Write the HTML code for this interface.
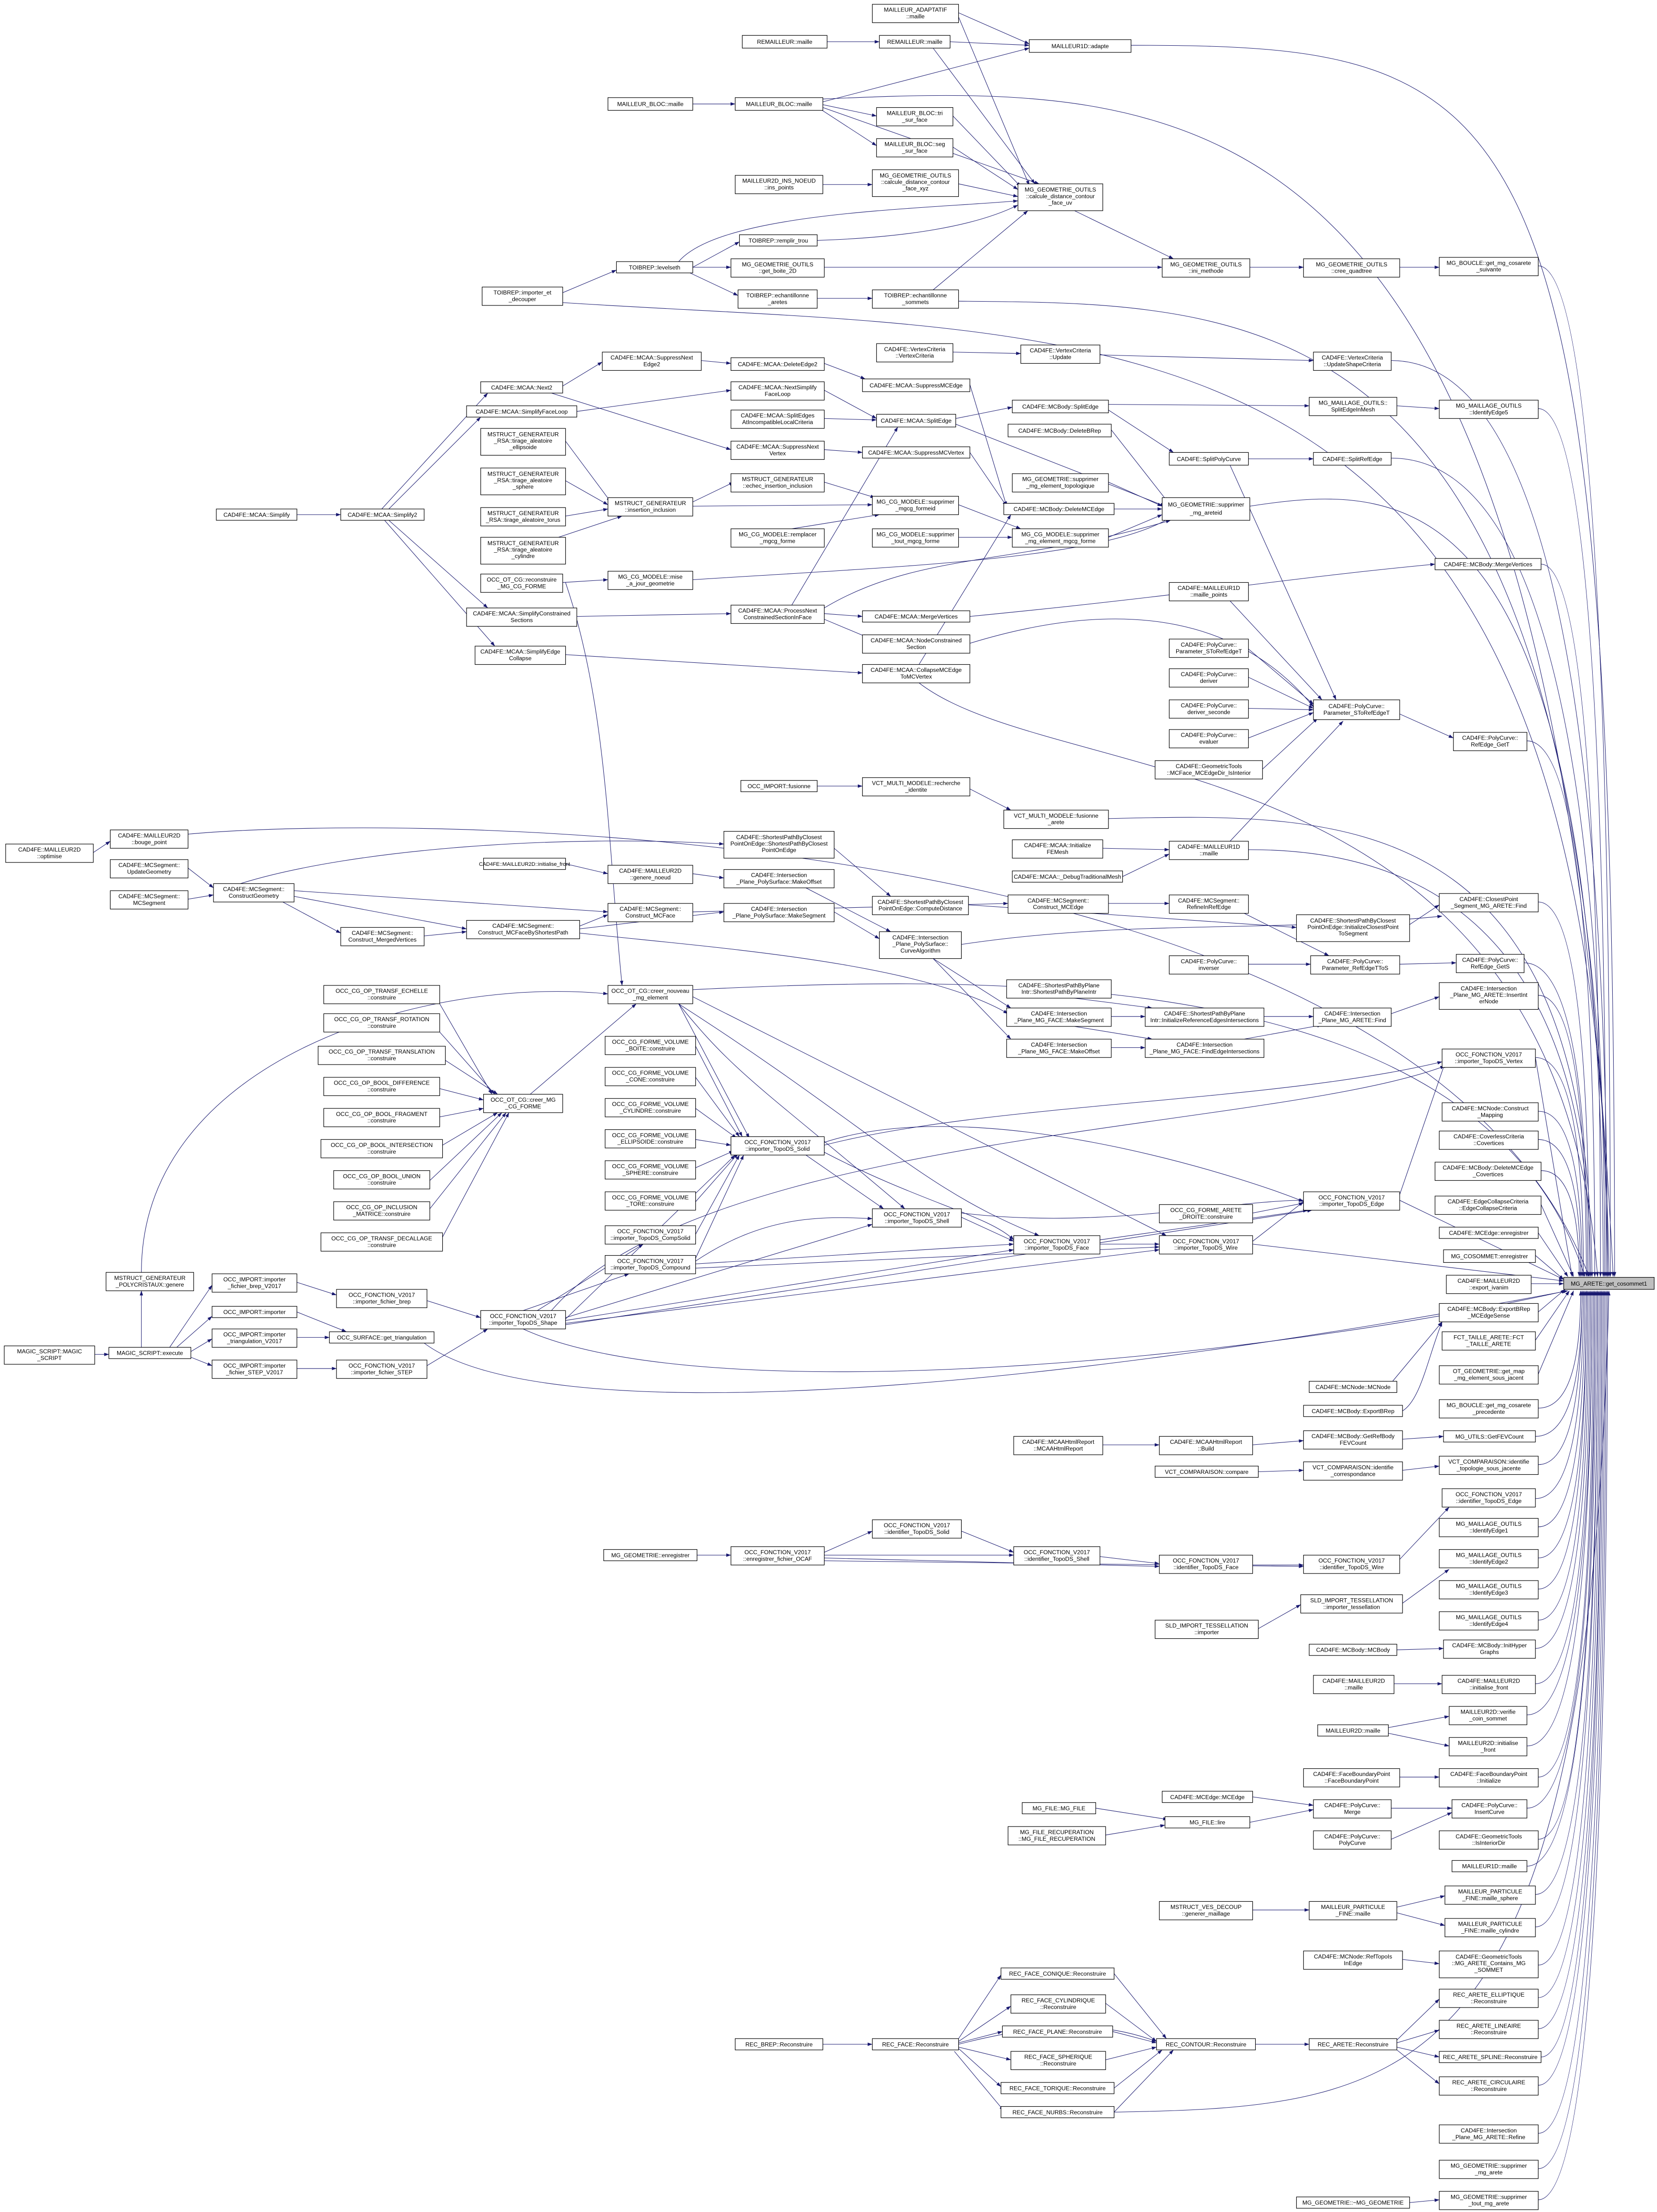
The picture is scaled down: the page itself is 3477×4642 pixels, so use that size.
<!DOCTYPE html>
<html><head><meta charset="utf-8">
<style>
html,body{margin:0;padding:0;background:#fff}
svg{display:block}
rect{fill:#fff;stroke:#000;stroke-width:.4}
text{font-family:"Liberation Sans",sans-serif;font-size:4.1px;text-anchor:middle;fill:#000}
path{fill:none;stroke:#191970;stroke-width:.35;marker-end:url(#a)}
</style></head><body>
<svg width="3477" height="4642" viewBox="0 0 1172 1564.6" xmlns="http://www.w3.org/2000/svg">
<defs><marker id="a" markerUnits="userSpaceOnUse" markerWidth="3.4" markerHeight="2.4" refX="3.3" refY="1.2" orient="auto"><path d="M0,0L3.4,1.2L0,2.4z" style="fill:#191970;stroke:none;marker-end:none"/></marker></defs>

<!-- ===== EDGES ===== -->
<path d="M678,9 L728,31"/>
<path d="M678,12 L728,131"/>
<path d="M585,29.5 L622,29.5"/>
<path d="M672,29.5 L728,32"/>
<path d="M660,34 L732,130"/>
<path d="M490,73.5 L520,73.5"/>
<path d="M582,72 L728,34"/>
<path d="M582,74 L620,82"/>
<path d="M580,77 L620,103"/>
<path d="M582,76 L735,130"/>
<path d="M582,70 C850,58 1100,55 1141,903"/>
<path d="M800,32 C1080,32 1142,60 1142,903"/>
<path d="M674,82 L722,132"/>
<path d="M674,104 L720,134"/>
<path d="M582,130.5 L617,130.5"/>
<path d="M678,130 L720,139"/>
<path d="M578,170 C640,168 690,160 720,145"/>
<path d="M490,189 L523,171"/>
<path d="M490,189 L517,189"/>
<path d="M488,193 L522,209"/>
<path d="M480,185 C510,150 650,148 720,142"/>
<path d="M398,207 L436,191"/>
<path d="M398,214 C800,240 1130,200 1138,903"/>
<path d="M583,189 L822,189"/>
<path d="M578,211 L617,211"/>
<path d="M660,205 L727,149"/>
<path d="M678,213 C900,215 1130,210 1137,903"/>
<path d="M760,149 L830,183"/>
<path d="M884,189 L922,189"/>
<path d="M990,189 L1018,189"/>
<path d="M496,255 L517,257"/>
<path d="M583,257 L612,268"/>
<path d="M398,273 L426,256"/>
<path d="M390,278 L517,318"/>
<path d="M408,291 L517,276"/>
<path d="M583,276 L620,296"/>
<path d="M583,296 L620,297"/>
<path d="M583,318 L610,320"/>
<path d="M686,272 L712,358"/>
<path d="M686,320 L712,358"/>
<path d="M676,296 L716,288"/>
<path d="M676,300 L824,358"/>
<path d="M784,290 L830,320"/>
<path d="M784,286 L926,287"/>
<path d="M988,287 L1018,289"/>
<path d="M786,304 L826,355"/>
<path d="M674,249 L722,250"/>
<path d="M778,251 L929,255"/>
<path d="M984,255 Q1137,255 1137,903"/>
<path d="M883,324.5 L929,324.5"/>
<path d="M870,329 L945,495"/>
<path d="M984,324 Q1135,324 1135,903"/>
<path d="M400,312 L432,355"/>
<path d="M400,340 L430,357"/>
<path d="M400,365 L430,360"/>
<path d="M395,380 L440,365"/>
<path d="M490,355 L519,341"/>
<path d="M490,358 L617,357"/>
<path d="M583,341 L619,352"/>
<path d="M210,364 L241,364"/>
<path d="M270,360 L345,278"/>
<path d="M275,360 L340,295"/>
<path d="M275,368 L345,430"/>
<path d="M272,368 L350,457"/>
<path d="M678,357 L722,374"/>
<path d="M560,374 L622,364"/>
<path d="M678,380 L716,380"/>
<path d="M784,341 L822,358"/>
<path d="M788,360 L822,360"/>
<path d="M784,380 L822,364"/>
<path d="M884,358 C1000,340 1133,340 1134,903"/>
<path d="M398,412 L430,410"/>
<path d="M490,410 C650,400 780,395 828,366"/>
<path d="M408,436 L517,434"/>
<path d="M583,434 L610,436"/>
<path d="M583,438 L614,451"/>
<path d="M560,428 L635,302"/>
<path d="M583,430 C650,390 720,400 828,368"/>
<path d="M400,463 L610,476"/>
<path d="M650,470 L715,364"/>
<path d="M650,483 C750,560 1100,520 1130,903"/>
<path d="M686,436 C850,420 900,410 1015,399"/>
<path d="M686,455 C800,420 880,440 929,500"/>
<path d="M1090,399 Q1132,399 1132,903"/>
<path d="M870,425 L935,495"/>
<path d="M883,459 L929,498"/>
<path d="M883,479 L929,501"/>
<path d="M883,501 L929,502"/>
<path d="M883,522 L929,504"/>
<path d="M893,544 L932,508"/>
<path d="M870,595 L950,510"/>
<path d="M990,505 L1028,522"/>
<path d="M1080,524 Q1128,524 1128,903"/>
<path d="M578,556 L610,556"/>
<path d="M686,558 L715,573"/>
<path d="M784,579 C950,575 1124,570 1126,903"/>
<path d="M780,600 L827,601"/>
<path d="M794,620 L827,604"/>
<path d="M883,601 Q1125,600 1125,903"/>
<path d="M784,639 L827,639"/>
<path d="M880,646 L940,676"/>
<path d="M883,682 L927,682"/>
<path d="M990,682 L1030,681"/>
<path d="M1078,681 Q1123,681 1123,903"/>
<path d="M997,654 L1018,640"/>
<path d="M1088,638 Q1124,638 1124,903"/>
<path d="M590,600 L630,634"/>
<path d="M685,640 L917,656"/>
<path d="M133,590 C300,575 1000,580 1124,903"/>
<path d="M66,603 L78,595"/>
<path d="M133,614 L151,628"/>
<path d="M133,636 L151,633"/>
<path d="M170,625 C250,600 400,590 512,597"/>
<path d="M208,630 L430,645"/>
<path d="M208,634 L330,657"/>
<path d="M200,638 L241,660"/>
<path d="M300,662 L330,659"/>
<path d="M410,655 L430,647"/>
<path d="M410,657 L512,645"/>
<path d="M400,611 L430,618"/>
<path d="M490,618 L512,621"/>
<path d="M490,645 L713,639"/>
<path d="M570,628 L630,659"/>
<path d="M590,645 L622,664"/>
<path d="M660,678 L715,713"/>
<path d="M660,678 L715,735"/>
<path d="M680,668 C800,650 900,660 1020,648"/>
<path d="M760,706 L815,713"/>
<path d="M786,719 L810,719"/>
<path d="M760,726 L815,735"/>
<path d="M786,741 L810,741"/>
<path d="M894,719 L929,719"/>
<path d="M880,735 L935,725"/>
<path d="M984,717 L1018,705"/>
<path d="M1088,704 Q1122,704 1122,903"/>
<path d="M410,660 C500,670 650,680 713,717"/>
<path d="M311,710 L348,774"/>
<path d="M311,730 L350,774"/>
<path d="M315,750 L352,774"/>
<path d="M311,770 L342,778"/>
<path d="M311,790 L342,784"/>
<path d="M313,810 L352,787"/>
<path d="M304,835 L355,787"/>
<path d="M304,855 L358,787"/>
<path d="M313,875 L360,787"/>
<path d="M375,774 L450,710"/>
<path d="M400,412 C430,500 430,600 440,697"/>
<path d="M490,700 C700,690 1050,680 1121,903"/>
<path d="M480,710 L530,805"/>
<path d="M480,710 C520,760 540,770 640,855"/>
<path d="M480,710 C620,800 650,840 735,874"/>
<path d="M490,705 L825,874"/>
<path d="M492,740 L525,804"/>
<path d="M492,762 L523,804"/>
<path d="M492,784 L521,805"/>
<path d="M492,806 L517,810"/>
<path d="M492,826 L519,814"/>
<path d="M492,850 L522,816"/>
<path d="M492,873 L523,817"/>
<path d="M492,890 L526,817"/>
<path d="M492,892 C540,860 580,860 617,862"/>
<path d="M492,894 L717,880"/>
<path d="M492,897 L820,882"/>
<path d="M570,817 L625,855"/>
<path d="M583,810 C700,780 900,780 1020,751"/>
<path d="M583,808 C700,770 900,840 922,850"/>
<path d="M583,815 C650,850 700,860 717,877"/>
<path d="M680,861 L717,878"/>
<path d="M680,858 C780,870 870,849 922,849"/>
<path d="M778,880 L820,880"/>
<path d="M778,877 L925,856"/>
<path d="M886,878 L922,850"/>
<path d="M886,858 L922,851"/>
<path d="M886,880 L1106,906"/>
<path d="M990,845 L1022,752"/>
<path d="M990,849 L1106,905"/>
<path d="M1086,748 Q1120,748 1120,903"/>
<path d="M400,933 L520,817"/>
<path d="M400,932 L617,866"/>
<path d="M400,934 L717,884"/>
<path d="M400,936 L820,884"/>
<path d="M400,937 L928,856"/>
<path d="M390,927 C500,800 900,800 1022,754"/>
<path d="M370,927 L445,901"/>
<path d="M380,927 L455,880"/>
<path d="M370,940 C500,1000 900,960 1108,913"/>
<path d="M100,900 C100,750 300,690 430,703"/>
<path d="M210,907 L238,916"/>
<path d="M302,920 L340,932"/>
<path d="M210,928 L245,942"/>
<path d="M210,946 L233,946"/>
<path d="M300,950 C380,1010 700,990 1109,913"/>
<path d="M67,958 L77,958"/>
<path d="M120,953 L150,909"/>
<path d="M125,953 L150,931"/>
<path d="M135,956 L150,947"/>
<path d="M135,960 L150,966"/>
<path d="M210,968 L238,968"/>
<path d="M302,966 L345,940"/>
<path d="M100,953 L100,913"/>
<path d="M985,977 L1020,935"/>
<path d="M992,998 C1005,990 1010,960 1020,935"/>
<path d="M780,1022 L820,1022"/>
<path d="M886,1022 L922,1019"/>
<path d="M992,1018 L1021,1016"/>
<path d="M890,1041 L922,1040"/>
<path d="M992,1040 L1018,1037"/>
<path d="M493,1100 L517,1100"/>
<path d="M583,1098 L617,1083"/>
<path d="M583,1100 L717,1100"/>
<path d="M583,1102 L820,1108"/>
<path d="M583,1104 L922,1108"/>
<path d="M680,1083 L717,1098"/>
<path d="M778,1101 L820,1106"/>
<path d="M886,1107 L922,1107"/>
<path d="M990,1103 L1025,1066"/>
<path d="M890,1152 L920,1135"/>
<path d="M992,1134 L1025,1110"/>
<path d="M988,1167 L1021,1166"/>
<path d="M986,1191 L1020,1191"/>
<path d="M982,1222 L1025,1214"/>
<path d="M982,1226 L1025,1235"/>
<path d="M990,1257 L1018,1257"/>
<path d="M775,1279 L826,1287"/>
<path d="M782,1298 L824,1291"/>
<path d="M884,1289 L929,1280"/>
<path d="M886,1271 L929,1277"/>
<path d="M984,1279 L1027,1279"/>
<path d="M984,1301 L1027,1282"/>
<path d="M886,1351 L926,1351"/>
<path d="M988,1349 L1022,1341"/>
<path d="M988,1353 L1022,1362"/>
<path d="M992,1386 L1018,1389"/>
<path d="M582,1446 L617,1446"/>
<path d="M678,1442 L708,1397"/>
<path d="M678,1444 L715,1419"/>
<path d="M678,1445 L709,1437"/>
<path d="M678,1448 L715,1457"/>
<path d="M678,1449 L708,1476"/>
<path d="M675,1451 L710,1493"/>
<path d="M678,1446 C740,1430 780,1430 818,1444"/>
<path d="M788,1396 L825,1442"/>
<path d="M782,1417 L818,1444"/>
<path d="M787,1437 L818,1445"/>
<path d="M782,1457 L818,1448"/>
<path d="M788,1477 L822,1450"/>
<path d="M788,1494 L830,1450"/>
<path d="M888,1446 L926,1446"/>
<path d="M988,1443 L1018,1414"/>
<path d="M988,1445 L1018,1436"/>
<path d="M988,1448 L1018,1455"/>
<path d="M988,1450 L1018,1474"/>
<path d="M788,1494 C1000,1490 1124,1480 1138,913"/>
<path d="M997,1558 L1018,1556"/>
<path d="M1088,188 Q1139,188 1139,903"/>
<path d="M1088,289 Q1136,289 1136,903"/>
<path d="M1086,748 L1112,903"/>
<path d="M1088,786 Q1119,786 1119,903"/>
<path d="M1088,806 Q1118,806 1118,903"/>
<path d="M1090,828 Q1117,828 1117,903"/>
<path d="M1090,852 L1113,903"/>
<path d="M1088,872 L1109,903"/>
<path d="M1086,888 L1106,905"/>
<path d="M1083,908 L1106,908"/>
<path d="M1088,928 L1107,912"/>
<path d="M1086,948 L1110,913"/>
<path d="M1088,972 L1113,913"/>
<path d="M1088,996 Q1118,996 1118,913"/>
<path d="M1086,1016 Q1119,1016 1119,913"/>
<path d="M1088,1036 Q1119,1036 1119,913"/>
<path d="M1086,1060 Q1120,1060 1120,913"/>
<path d="M1088,1080 Q1121,1080 1121,913"/>
<path d="M1088,1102 Q1122,1102 1122,913"/>
<path d="M1088,1124 Q1122,1124 1122,913"/>
<path d="M1088,1146 Q1123,1146 1123,913"/>
<path d="M1086,1166 Q1124,1166 1124,913"/>
<path d="M1086,1191 Q1125,1191 1125,913"/>
<path d="M1080,1213 Q1126,1213 1126,913"/>
<path d="M1080,1235 Q1126,1235 1126,913"/>
<path d="M1088,1257 Q1127,1257 1127,913"/>
<path d="M1080,1279 Q1128,1279 1128,913"/>
<path d="M1088,1301 Q1128,1301 1128,913"/>
<path d="M1080,1320 Q1129,1320 1129,913"/>
<path d="M1086,1340 Q1130,1340 1130,913"/>
<path d="M1086,1363 Q1130,1363 1130,913"/>
<path d="M1088,1390 Q1131,1390 1131,913"/>
<path d="M1088,1413 Q1132,1413 1132,913"/>
<path d="M1088,1435 Q1133,1435 1133,913"/>
<path d="M1090,1455 Q1133,1455 1133,913"/>
<path d="M1088,1475 Q1134,1475 1134,913"/>
<path d="M1088,1509 Q1135,1509 1135,913"/>
<path d="M1088,1534 Q1136,1534 1136,913"/>
<path d="M1088,1556 Q1137,1556 1137,913"/>

<!-- ===== NODES ===== -->
<rect x="617" y="3" width="61" height="13"/><text x="647.5" y="8.3">MAILLEUR_ADAPTATIF</text><text x="647.5" y="13">::maille</text>
<rect x="525" y="25" width="60" height="9"/><text x="555" y="31">REMAILLEUR::maille</text>
<rect x="622" y="25" width="50" height="9"/><text x="647" y="31">REMAILLEUR::maille</text>
<rect x="728" y="28" width="72" height="9"/><text x="764" y="34">MAILLEUR1D::adapte</text>
<rect x="430" y="69" width="60" height="9"/><text x="460" y="75">MAILLEUR_BLOC::maille</text>
<rect x="520" y="69" width="62" height="9"/><text x="551" y="75">MAILLEUR_BLOC::maille</text>
<rect x="620" y="76" width="54" height="13"/><text x="647" y="81.3">MAILLEUR_BLOC::tri</text><text x="647" y="86">_sur_face</text>
<rect x="620" y="98" width="54" height="13"/><text x="647" y="103.3">MAILLEUR_BLOC::seg</text><text x="647" y="108">_sur_face</text>
<rect x="520" y="124" width="62" height="13"/><text x="551" y="129.3">MAILLEUR2D_INS_NOEUD</text><text x="551" y="134">::ins_points</text>
<rect x="617" y="120" width="61" height="19"/><text x="647.5" y="125.5">MG_GEOMETRIE_OUTILS</text><text x="647.5" y="130.1">::calcule_distance_contour</text><text x="647.5" y="134.7">_face_xyz</text>
<rect x="720" y="130" width="60" height="19"/><text x="750" y="135.5">MG_GEOMETRIE_OUTILS</text><text x="750" y="140.1">::calcule_distance_contour</text><text x="750" y="144.7">_face_uv</text>
<rect x="523" y="166" width="55" height="8"/><text x="550.5" y="171.5">TOIBREP::remplir_trou</text>
<rect x="436" y="185" width="54" height="8"/><text x="463" y="190.5">TOIBREP::levelseth</text>
<rect x="517" y="183" width="66" height="13"/><text x="550" y="188.3">MG_GEOMETRIE_OUTILS</text><text x="550" y="193">::get_boite_2D</text>
<rect x="341" y="203" width="57" height="13"/><text x="369.5" y="208.3">TOIBREP::importer_et</text><text x="369.5" y="213">_decouper</text>
<rect x="522" y="205" width="56" height="13"/><text x="550" y="210.3">TOIBREP::echantillonne</text><text x="550" y="215">_aretes</text>
<rect x="617" y="205" width="61" height="13"/><text x="647.5" y="210.3">TOIBREP::echantillonne</text><text x="647.5" y="215">_sommets</text>
<rect x="822" y="183" width="62" height="13"/><text x="853" y="188.3">MG_GEOMETRIE_OUTILS</text><text x="853" y="193">::ini_methode</text>
<rect x="922" y="183" width="68" height="13"/><text x="956" y="188.3">MG_GEOMETRIE_OUTILS</text><text x="956" y="193">::cree_quadtree</text>

<rect x="426" y="249" width="70" height="13"/><text x="461" y="254.3">CAD4FE::MCAA::SuppressNext</text><text x="461" y="259">Edge2</text>
<rect x="517" y="253" width="66" height="9"/><text x="550" y="259">CAD4FE::MCAA::DeleteEdge2</text>
<rect x="620" y="243" width="54" height="13"/><text x="647" y="248.3">CAD4FE::VertexCriteria</text><text x="647" y="253">::VertexCriteria</text>
<rect x="722" y="244" width="56" height="13"/><text x="750" y="249.3">CAD4FE::VertexCriteria</text><text x="750" y="254">::Update</text>
<rect x="929" y="249" width="55" height="13"/><text x="956.5" y="254.3">CAD4FE::VertexCriteria</text><text x="956.5" y="259">::UpdateShapeCriteria</text>
<rect x="340" y="270" width="58" height="8"/><text x="369" y="275.5">CAD4FE::MCAA::Next2</text>
<rect x="517" y="270" width="66" height="13"/><text x="550" y="275.3">CAD4FE::MCAA::NextSimplify</text><text x="550" y="280">FaceLoop</text>
<rect x="610" y="268" width="76" height="9"/><text x="648" y="274">CAD4FE::MCAA::SuppressMCEdge</text>
<rect x="716" y="283" width="68" height="9"/><text x="750" y="289">CAD4FE::MCBody::SplitEdge</text>
<rect x="926" y="281" width="62" height="13"/><text x="957" y="286.3">MG_MAILLAGE_OUTILS::</text><text x="957" y="291">SplitEdgeInMesh</text>
<rect x="330" y="287" width="78" height="8"/><text x="369" y="292.5">CAD4FE::MCAA::SimplifyFaceLoop</text>
<rect x="517" y="290" width="66" height="13"/><text x="550" y="295.3">CAD4FE::MCAA::SplitEdges</text><text x="550" y="300">AtIncompatibleLocalCriteria</text>
<rect x="620" y="293" width="56" height="9"/><text x="648" y="299">CAD4FE::MCAA::SplitEdge</text>
<rect x="713" y="300" width="73" height="9"/><text x="749.5" y="306">CAD4FE::MCBody::DeleteBRep</text>
<rect x="340" y="303" width="60" height="19"/><text x="370" y="308.5">MSTRUCT_GENERATEUR</text><text x="370" y="313.1">_RSA::tirage_aleatoire</text><text x="370" y="317.7">_ellipsoide</text>
<rect x="517" y="312" width="66" height="13"/><text x="550" y="317.3">CAD4FE::MCAA::SuppressNext</text><text x="550" y="322">Vertex</text>
<rect x="610" y="316" width="76" height="8"/><text x="648" y="321.5">CAD4FE::MCAA::SuppressMCVertex</text>
<rect x="827" y="320" width="56" height="9"/><text x="855" y="326">CAD4FE::SplitPolyCurve</text>
<rect x="929" y="320" width="55" height="9"/><text x="956.5" y="326">CAD4FE::SplitRefEdge</text>
<rect x="340" y="331" width="60" height="19"/><text x="370" y="336.5">MSTRUCT_GENERATEUR</text><text x="370" y="341.1">_RSA::tirage_aleatoire</text><text x="370" y="345.7">_sphere</text>
<rect x="517" y="335" width="66" height="13"/><text x="550" y="340.3">MSTRUCT_GENERATEUR</text><text x="550" y="345">::echec_insertion_inclusion</text>
<rect x="716" y="335" width="68" height="13"/><text x="750" y="340.3">MG_GEOMETRIE::supprimer</text><text x="750" y="345">_mg_element_topologique</text>
<rect x="153" y="360" width="57" height="8"/><text x="181.5" y="365.5">CAD4FE::MCAA::Simplify</text>
<rect x="241" y="360" width="59" height="8"/><text x="270.5" y="365.5">CAD4FE::MCAA::Simplify2</text>
<rect x="430" y="352" width="60" height="13"/><text x="460" y="357.3">MSTRUCT_GENERATEUR</text><text x="460" y="362">::insertion_inclusion</text>
<rect x="617" y="351" width="61" height="13"/><text x="647.5" y="356.3">MG_CG_MODELE::supprimer</text><text x="647.5" y="361">_mgcg_formeid</text>
<rect x="710" y="356" width="78" height="8"/><text x="749" y="361.5">CAD4FE::MCBody::DeleteMCEdge</text>
<rect x="822" y="352" width="62" height="16"/><text x="853" y="358.3">MG_GEOMETRIE::supprimer</text><text x="853" y="364">_mg_areteid</text>
<rect x="340" y="359" width="60" height="13"/><text x="370" y="364.3">MSTRUCT_GENERATEUR</text><text x="370" y="369">_RSA::tirage_aleatoire_torus</text>
<rect x="340" y="380" width="60" height="19"/><text x="370" y="385.5">MSTRUCT_GENERATEUR</text><text x="370" y="390.1">_RSA::tirage_aleatoire</text><text x="370" y="394.7">_cylindre</text>
<rect x="517" y="374" width="66" height="13"/><text x="550" y="379.3">MG_CG_MODELE::remplacer</text><text x="550" y="384">_mgcg_forme</text>
<rect x="617" y="374" width="61" height="13"/><text x="647.5" y="379.3">MG_CG_MODELE::supprimer</text><text x="647.5" y="384">_tout_mgcg_forme</text>
<rect x="716" y="374" width="68" height="13"/><text x="750" y="379.3">MG_CG_MODELE::supprimer</text><text x="750" y="384">_mg_element_mgcg_forme</text>
<rect x="340" y="406" width="58" height="13"/><text x="369" y="411.3">OCC_OT_CG::reconstruire</text><text x="369" y="416">_MG_CG_FORME</text>
<rect x="430" y="404" width="60" height="13"/><text x="460" y="409.3">MG_CG_MODELE::mise</text><text x="460" y="414">_a_jour_geometrie</text>
<rect x="517" y="428" width="66" height="13"/><text x="550" y="433.3">CAD4FE::MCAA::ProcessNext</text><text x="550" y="438">ConstrainedSectionInFace</text>
<rect x="610" y="432" width="76" height="8"/><text x="648" y="437.5">CAD4FE::MCAA::MergeVertices</text>
<rect x="330" y="430" width="78" height="13"/><text x="369" y="435.3">CAD4FE::MCAA::SimplifyConstrained</text><text x="369" y="440">Sections</text>
<rect x="610" y="449" width="76" height="13"/><text x="648" y="454.3">CAD4FE::MCAA::NodeConstrained</text><text x="648" y="459">Section</text>
<rect x="1015" y="395" width="75" height="8"/><text x="1052.5" y="400.5">CAD4FE::MCBody::MergeVertices</text>
<rect x="827" y="412" width="56" height="13"/><text x="855" y="417.3">CAD4FE::MAILLEUR1D</text><text x="855" y="422">::maille_points</text>
<rect x="827" y="452" width="56" height="13"/><text x="855" y="457.3">CAD4FE::PolyCurve::</text><text x="855" y="462">Parameter_SToRefEdgeT</text>
<rect x="336" y="457" width="64" height="13"/><text x="368" y="462.3">CAD4FE::MCAA::SimplifyEdge</text><text x="368" y="467">Collapse</text>
<rect x="610" y="470" width="76" height="13"/><text x="648" y="475.3">CAD4FE::MCAA::CollapseMCEdge</text><text x="648" y="480">ToMCVertex</text>
<rect x="827" y="473" width="56" height="13"/><text x="855" y="478.3">CAD4FE::PolyCurve::</text><text x="855" y="483">deriver</text>
<rect x="929" y="495" width="61" height="14"/><text x="959.5" y="500.8">CAD4FE::PolyCurve::</text><text x="959.5" y="505.5">Parameter_SToRefEdgeT</text>
<rect x="827" y="495" width="56" height="13"/><text x="855" y="500.3">CAD4FE::PolyCurve::</text><text x="855" y="505">deriver_seconde</text>
<rect x="827" y="516" width="56" height="13"/><text x="855" y="521.3">CAD4FE::PolyCurve::</text><text x="855" y="526">evaluer</text>
<rect x="1028" y="518" width="52" height="13"/><text x="1054" y="523.3">CAD4FE::PolyCurve::</text><text x="1054" y="528">RefEdge_GetT</text>
<rect x="817" y="538" width="76" height="13"/><text x="855" y="543.3">CAD4FE::GeometricTools</text><text x="855" y="548">::MCFace_MCEdgeDir_IsInterior</text>
<rect x="524" y="552" width="54" height="8"/><text x="551" y="557.5">OCC_IMPORT::fusionne</text>
<rect x="610" y="550" width="76" height="13"/><text x="648" y="555.3">VCT_MULTI_MODELE::recherche</text><text x="648" y="560">_identite</text>
<rect x="710" y="573" width="74" height="13"/><text x="747" y="578.3">VCT_MULTI_MODELE::fusionne</text><text x="747" y="583">_arete</text>
<rect x="716" y="594" width="64" height="13"/><text x="748" y="599.3">CAD4FE::MCAA::Initialize</text><text x="748" y="604">FEMesh</text>
<rect x="827" y="595" width="56" height="13"/><text x="855" y="600.3">CAD4FE::MAILLEUR1D</text><text x="855" y="605">::maille</text>
<rect x="716" y="616" width="78" height="8"/><text x="755" y="621.5">CAD4FE::MCAA::_DebugTraditionalMesh</text>
<rect x="713" y="633" width="71" height="13"/><text x="748.5" y="638.3">CAD4FE::MCSegment::</text><text x="748.5" y="643">Construct_MCEdge</text>
<rect x="827" y="633" width="56" height="13"/><text x="855" y="638.3">CAD4FE::MCSegment::</text><text x="855" y="643">RefineInRefEdge</text>
<rect x="1018" y="632" width="70" height="13"/><text x="1053" y="637.3">CAD4FE::ClosestPoint</text><text x="1053" y="642">_Segment_MG_ARETE::Find</text>
<rect x="917" y="647" width="80" height="19"/><text x="957" y="652.5">CAD4FE::ShortestPathByClosest</text><text x="957" y="657.1">PointOnEdge::InitializeClosestPoint</text><text x="957" y="661.7">ToSegment</text>
<rect x="827" y="676" width="56" height="13"/><text x="855" y="681.3">CAD4FE::PolyCurve::</text><text x="855" y="686">inverser</text>
<rect x="927" y="676" width="63" height="13"/><text x="958.5" y="681.3">CAD4FE::PolyCurve::</text><text x="958.5" y="686">Parameter_RefEdgeTToS</text>
<rect x="1030" y="675" width="48" height="13"/><text x="1054" y="680.3">CAD4FE::PolyCurve::</text><text x="1054" y="685">RefEdge_GetS</text>
<rect x="78" y="587" width="55" height="13"/><text x="105.5" y="592.3">CAD4FE::MAILLEUR2D</text><text x="105.5" y="597">::bouge_point</text>
<rect x="4" y="597" width="62" height="13"/><text x="35" y="602.3">CAD4FE::MAILLEUR2D</text><text x="35" y="607">::optimise</text>
<rect x="78" y="608" width="55" height="13"/><text x="105.5" y="613.3">CAD4FE::MCSegment::</text><text x="105.5" y="618">UpdateGeometry</text>
<rect x="78" y="630" width="55" height="13"/><text x="105.5" y="635.3">CAD4FE::MCSegment::</text><text x="105.5" y="640">MCSegment</text>
<rect x="151" y="625" width="57" height="13"/><text x="179.5" y="630.3">CAD4FE::MCSegment::</text><text x="179.5" y="635">ConstructGeometry</text>
<rect x="512" y="588" width="78" height="19"/><text x="551" y="593.5">CAD4FE::ShortestPathByClosest</text><text x="551" y="598.1">PointOnEdge::ShortestPathByClosest</text><text x="551" y="602.7">PointOnEdge</text>
<rect x="342" y="607" width="58" height="8"/><text x="371" y="612.5" style="font-size:3.7px">CAD4FE::MAILLEUR2D::initialise_front</text>
<rect x="430" y="612" width="60" height="13"/><text x="460" y="617.3">CAD4FE::MAILLEUR2D</text><text x="460" y="622">::genere_noeud</text>
<rect x="512" y="615" width="78" height="13"/><text x="551" y="620.3">CAD4FE::Intersection</text><text x="551" y="625">_Plane_PolySurface::MakeOffset</text>
<rect x="617" y="634" width="68" height="13"/><text x="651" y="639.3">CAD4FE::ShortestPathByClosest</text><text x="651" y="644">PointOnEdge::ComputeDistance</text>
<rect x="430" y="639" width="60" height="13"/><text x="460" y="644.3">CAD4FE::MCSegment::</text><text x="460" y="649">Construct_MCFace</text>
<rect x="512" y="639" width="78" height="13"/><text x="551" y="644.3">CAD4FE::Intersection</text><text x="551" y="649">_Plane_PolySurface::MakeSegment</text>
<rect x="330" y="651" width="80" height="13"/><text x="370" y="656.3">CAD4FE::MCSegment::</text><text x="370" y="661">Construct_MCFaceByShortestPath</text>
<rect x="241" y="656" width="59" height="13"/><text x="270.5" y="661.3">CAD4FE::MCSegment::</text><text x="270.5" y="666">Construct_MergedVertices</text>
<rect x="622" y="659" width="58" height="19"/><text x="651" y="664.5">CAD4FE::Intersection</text><text x="651" y="669.1">_Plane_PolySurface::</text><text x="651" y="673.7">CurveAlgorithm</text>
<rect x="712" y="693" width="74" height="13"/><text x="749" y="698.3">CAD4FE::ShortestPathByPlane</text><text x="749" y="703">Intr::ShortestPathByPlaneIntr</text>
<rect x="430" y="697" width="60" height="13"/><text x="460" y="702.3">OCC_OT_CG::creer_nouveau</text><text x="460" y="707">_mg_element</text>
<rect x="712" y="713" width="74" height="13"/><text x="749" y="718.3">CAD4FE::Intersection</text><text x="749" y="723">_Plane_MG_FACE::MakeSegment</text>
<rect x="810" y="713" width="84" height="13"/><text x="852" y="718.3">CAD4FE::ShortestPathByPlane</text><text x="852" y="723">Intr::InitializeReferenceEdgesIntersections</text>
<rect x="929" y="713" width="55" height="13"/><text x="956.5" y="718.3">CAD4FE::Intersection</text><text x="956.5" y="723">_Plane_MG_ARETE::Find</text>
<rect x="1018" y="695" width="70" height="19"/><text x="1053" y="700.5">CAD4FE::Intersection</text><text x="1053" y="705.1">_Plane_MG_ARETE::InsertInt</text><text x="1053" y="709.7">erNode</text>
<rect x="712" y="735" width="74" height="13"/><text x="749" y="740.3">CAD4FE::Intersection</text><text x="749" y="745">_Plane_MG_FACE::MakeOffset</text>
<rect x="810" y="735" width="84" height="13"/><text x="852" y="740.3">CAD4FE::Intersection</text><text x="852" y="745">_Plane_MG_FACE::FindEdgeIntersections</text>
<rect x="1020" y="742" width="66" height="13"/><text x="1053" y="747.3">OCC_FONCTION_V2017</text><text x="1053" y="752">::importer_TopoDS_Vertex</text>

<rect x="229" y="697" width="82" height="13"/><text x="270" y="702.3">OCC_CG_OP_TRANSF_ECHELLE</text><text x="270" y="707">::construire</text>
<rect x="229" y="717" width="82" height="13"/><text x="270" y="722.3">OCC_CG_OP_TRANSF_ROTATION</text><text x="270" y="727">::construire</text>
<rect x="225" y="740" width="90" height="13"/><text x="270" y="745.3">OCC_CG_OP_TRANSF_TRANSLATION</text><text x="270" y="750">::construire</text>
<rect x="229" y="762" width="82" height="13"/><text x="270" y="767.3">OCC_CG_OP_BOOL_DIFFERENCE</text><text x="270" y="772">::construire</text>
<rect x="229" y="784" width="82" height="13"/><text x="270" y="789.3">OCC_CG_OP_BOOL_FRAGMENT</text><text x="270" y="794">::construire</text>
<rect x="342" y="774" width="56" height="13"/><text x="370" y="779.3">OCC_OT_CG::creer_MG</text><text x="370" y="784">_CG_FORME</text>
<rect x="227" y="806" width="86" height="13"/><text x="270" y="811.3">OCC_CG_OP_BOOL_INTERSECTION</text><text x="270" y="816">::construire</text>
<rect x="236" y="828" width="68" height="13"/><text x="270" y="833.3">OCC_CG_OP_BOOL_UNION</text><text x="270" y="838">::construire</text>
<rect x="236" y="850" width="68" height="13"/><text x="270" y="855.3">OCC_CG_OP_INCLUSION</text><text x="270" y="860">_MATRICE::construire</text>
<rect x="227" y="872" width="86" height="13"/><text x="270" y="877.3">OCC_CG_OP_TRANSF_DECALLAGE</text><text x="270" y="882">::construire</text>
<rect x="428" y="733" width="64" height="13"/><text x="460" y="738.3">OCC_CG_FORME_VOLUME</text><text x="460" y="743">_BOITE::construire</text>
<rect x="428" y="755" width="64" height="13"/><text x="460" y="760.3">OCC_CG_FORME_VOLUME</text><text x="460" y="765">_CONE::construire</text>
<rect x="428" y="777" width="64" height="13"/><text x="460" y="782.3">OCC_CG_FORME_VOLUME</text><text x="460" y="787">_CYLINDRE::construire</text>
<rect x="428" y="799" width="64" height="13"/><text x="460" y="804.3">OCC_CG_FORME_VOLUME</text><text x="460" y="809">_ELLIPSOIDE::construire</text>
<rect x="428" y="821" width="64" height="13"/><text x="460" y="826.3">OCC_CG_FORME_VOLUME</text><text x="460" y="831">_SPHERE::construire</text>
<rect x="428" y="843" width="64" height="13"/><text x="460" y="848.3">OCC_CG_FORME_VOLUME</text><text x="460" y="853">_TORE::construire</text>
<rect x="428" y="867" width="64" height="13"/><text x="460" y="872.3">OCC_FONCTION_V2017</text><text x="460" y="877">::importer_TopoDS_CompSolid</text>
<rect x="428" y="888" width="64" height="13"/><text x="460" y="893.3">OCC_FONCTION_V2017</text><text x="460" y="898">::importer_TopoDS_Compound</text>
<rect x="517" y="804" width="66" height="13"/><text x="550" y="809.3">OCC_FONCTION_V2017</text><text x="550" y="814">::importer_TopoDS_Solid</text>
<rect x="617" y="855" width="63" height="13"/><text x="648.5" y="860.3">OCC_FONCTION_V2017</text><text x="648.5" y="865">::importer_TopoDS_Shell</text>
<rect x="717" y="874" width="61" height="13"/><text x="747.5" y="879.3">OCC_FONCTION_V2017</text><text x="747.5" y="884">::importer_TopoDS_Face</text>
<rect x="820" y="874" width="66" height="13"/><text x="853" y="879.3">OCC_FONCTION_V2017</text><text x="853" y="884">::importer_TopoDS_Wire</text>
<rect x="820" y="852" width="66" height="13"/><text x="853" y="857.3">OCC_CG_FORME_ARETE</text><text x="853" y="862">_DROITE::construire</text>
<rect x="922" y="843" width="68" height="13"/><text x="956" y="848.3">OCC_FONCTION_V2017</text><text x="956" y="853">::importer_TopoDS_Edge</text>
<rect x="75" y="900" width="62" height="13"/><text x="106" y="905.3">MSTRUCT_GENERATEUR</text><text x="106" y="910">_POLYCRISTAUX::genere</text>
<rect x="150" y="901" width="60" height="13"/><text x="180" y="906.3">OCC_IMPORT::importer</text><text x="180" y="911">_fichier_brep_V2017</text>
<rect x="238" y="912" width="64" height="13"/><text x="270" y="917.3">OCC_FONCTION_V2017</text><text x="270" y="922">::importer_fichier_brep</text>
<rect x="150" y="924" width="60" height="8"/><text x="180" y="929.5">OCC_IMPORT::importer</text>
<rect x="340" y="927" width="60" height="13"/><text x="370" y="932.3">OCC_FONCTION_V2017</text><text x="370" y="937">::importer_TopoDS_Shape</text>
<rect x="150" y="940" width="60" height="13"/><text x="180" y="945.3">OCC_IMPORT::importer</text><text x="180" y="950">_triangulation_V2017</text>
<rect x="233" y="942" width="74" height="8"/><text x="270" y="947.5">OCC_SURFACE::get_triangulation</text>
<rect x="3" y="952" width="64" height="13"/><text x="35" y="957.3">MAGIC_SCRIPT::MAGIC</text><text x="35" y="962">_SCRIPT</text>
<rect x="77" y="953" width="58" height="8"/><text x="106" y="958.5">MAGIC_SCRIPT::execute</text>
<rect x="150" y="962" width="60" height="13"/><text x="180" y="967.3">OCC_IMPORT::importer</text><text x="180" y="972">_fichier_STEP_V2017</text>
<rect x="238" y="962" width="64" height="13"/><text x="270" y="967.3">OCC_FONCTION_V2017</text><text x="270" y="972">::importer_fichier_STEP</text>

<rect x="926" y="977" width="62" height="8"/><text x="957" y="982.5">CAD4FE::MCNode::MCNode</text>
<rect x="922" y="994" width="70" height="8"/><text x="957" y="999.5">CAD4FE::MCBody::ExportBRep</text>
<rect x="922" y="1012" width="70" height="13"/><text x="957" y="1017.3">CAD4FE::MCBody::GetRefBody</text><text x="957" y="1022">FEVCount</text>
<rect x="717" y="1016" width="63" height="13"/><text x="748.5" y="1021.3">CAD4FE::MCAAHtmlReport</text><text x="748.5" y="1026">::MCAAHtmlReport</text>
<rect x="820" y="1016" width="66" height="13"/><text x="853" y="1021.3">CAD4FE::MCAAHtmlReport</text><text x="853" y="1026">::Build</text>
<rect x="817" y="1037" width="73" height="8"/><text x="853.5" y="1042.5">VCT_COMPARAISON::compare</text>
<rect x="922" y="1034" width="70" height="13"/><text x="957" y="1039.3">VCT_COMPARAISON::identifie</text><text x="957" y="1044">_correspondance</text>
<rect x="617" y="1075" width="63" height="13"/><text x="648.5" y="1080.3">OCC_FONCTION_V2017</text><text x="648.5" y="1085">::identifier_TopoDS_Solid</text>
<rect x="427" y="1096" width="66" height="8"/><text x="460" y="1101.5">MG_GEOMETRIE::enregistrer</text>
<rect x="517" y="1094" width="66" height="13"/><text x="550" y="1099.3">OCC_FONCTION_V2017</text><text x="550" y="1104">::enregistrer_fichier_OCAF</text>
<rect x="717" y="1094" width="61" height="13"/><text x="747.5" y="1099.3">OCC_FONCTION_V2017</text><text x="747.5" y="1104">::identifier_TopoDS_Shell</text>
<rect x="820" y="1100" width="66" height="13"/><text x="853" y="1105.3">OCC_FONCTION_V2017</text><text x="853" y="1110">::identifier_TopoDS_Face</text>
<rect x="922" y="1100" width="68" height="13"/><text x="956" y="1105.3">OCC_FONCTION_V2017</text><text x="956" y="1110">::identifier_TopoDS_Wire</text>
<rect x="920" y="1128" width="72" height="13"/><text x="956" y="1133.3">SLD_IMPORT_TESSELLATION</text><text x="956" y="1138">::importer_tessellation</text>
<rect x="817" y="1146" width="73" height="13"/><text x="853.5" y="1151.3">SLD_IMPORT_TESSELLATION</text><text x="853.5" y="1156">::importer</text>
<rect x="926" y="1163" width="62" height="8"/><text x="957" y="1168.5">CAD4FE::MCBody::MCBody</text>
<rect x="929" y="1185" width="57" height="13"/><text x="957.5" y="1190.3">CAD4FE::MAILLEUR2D</text><text x="957.5" y="1195">::maille</text>
<rect x="932" y="1220" width="50" height="8"/><text x="957" y="1225.5">MAILLEUR2D::maille</text>
<rect x="922" y="1251" width="68" height="13"/><text x="956" y="1256.3">CAD4FE::FaceBoundaryPoint</text><text x="956" y="1261">::FaceBoundaryPoint</text>
<rect x="822" y="1267" width="64" height="8"/><text x="854" y="1272.5">CAD4FE::MCEdge::MCEdge</text>
<rect x="723" y="1275" width="52" height="8"/><text x="749" y="1280.5">MG_FILE::MG_FILE</text>
<rect x="929" y="1273" width="55" height="13"/><text x="956.5" y="1278.3">CAD4FE::PolyCurve::</text><text x="956.5" y="1283">Merge</text>
<rect x="824" y="1285" width="60" height="8"/><text x="854" y="1290.5">MG_FILE::lire</text>
<rect x="713" y="1292" width="69" height="13"/><text x="747.5" y="1297.3">MG_FILE_RECUPERATION</text><text x="747.5" y="1302">::MG_FILE_RECUPERATION</text>
<rect x="929" y="1295" width="55" height="13"/><text x="956.5" y="1300.3">CAD4FE::PolyCurve::</text><text x="956.5" y="1305">PolyCurve</text>
<rect x="820" y="1345" width="66" height="13"/><text x="853" y="1350.3">MSTRUCT_VES_DECOUP</text><text x="853" y="1355">::generer_maillage</text>
<rect x="926" y="1345" width="62" height="13"/><text x="957" y="1350.3">MAILLEUR_PARTICULE</text><text x="957" y="1355">_FINE::maille</text>
<rect x="922" y="1380" width="70" height="13"/><text x="957" y="1385.3">CAD4FE::MCNode::RefTopoIs</text><text x="957" y="1390">InEdge</text>
<rect x="708" y="1392" width="80" height="8"/><text x="748" y="1397.5">REC_FACE_CONIQUE::Reconstruire</text>
<rect x="715" y="1411" width="67" height="13"/><text x="748.5" y="1416.3">REC_FACE_CYLINDRIQUE</text><text x="748.5" y="1421">::Reconstruire</text>
<rect x="709" y="1433" width="78" height="8"/><text x="748" y="1438.5">REC_FACE_PLANE::Reconstruire</text>
<rect x="520" y="1442" width="62" height="8"/><text x="551" y="1447.5">REC_BREP::Reconstruire</text>
<rect x="617" y="1442" width="61" height="8"/><text x="647.5" y="1447.5">REC_FACE::Reconstruire</text>
<rect x="818" y="1442" width="70" height="8"/><text x="853" y="1447.5">REC_CONTOUR::Reconstruire</text>
<rect x="926" y="1442" width="62" height="8"/><text x="957" y="1447.5">REC_ARETE::Reconstruire</text>
<rect x="715" y="1451" width="67" height="13"/><text x="748.5" y="1456.3">REC_FACE_SPHERIQUE</text><text x="748.5" y="1461">::Reconstruire</text>
<rect x="708" y="1473" width="80" height="8"/><text x="748" y="1478.5">REC_FACE_TORIQUE::Reconstruire</text>
<rect x="708" y="1490" width="80" height="8"/><text x="748" y="1495.5">REC_FACE_NURBS::Reconstruire</text>
<rect x="917" y="1554" width="80" height="8"/><text x="957" y="1559.5">MG_GEOMETRIE::~MG_GEOMETRIE</text>

<rect x="1018" y="182" width="70" height="13"/><text x="1053" y="187.3">MG_BOUCLE::get_mg_cosarete</text><text x="1053" y="192">_suivante</text>
<rect x="1018" y="283" width="70" height="13"/><text x="1053" y="288.3">MG_MAILLAGE_OUTILS</text><text x="1053" y="293">::IdentifyEdge5</text>
<rect x="1020" y="780" width="68" height="13"/><text x="1054" y="785.3">CAD4FE::MCNode::Construct</text><text x="1054" y="790">_Mapping</text>
<rect x="1018" y="800" width="70" height="13"/><text x="1053" y="805.3">CAD4FE::CoverlessCriteria</text><text x="1053" y="810">::Covertices</text>
<rect x="1015" y="822" width="75" height="13"/><text x="1052.5" y="827.3">CAD4FE::MCBody::DeleteMCEdge</text><text x="1052.5" y="832">_Covertices</text>
<rect x="1015" y="846" width="75" height="13"/><text x="1052.5" y="851.3">CAD4FE::EdgeCollapseCriteria</text><text x="1052.5" y="856">::EdgeCollapseCriteria</text>
<rect x="1018" y="868" width="70" height="8"/><text x="1053" y="873.5">CAD4FE::MCEdge::enregistrer</text>
<rect x="1021" y="884" width="65" height="9"/><text x="1053.5" y="890">MG_COSOMMET::enregistrer</text>
<rect x="1023" y="902" width="60" height="13"/><text x="1053" y="907.3">CAD4FE::MAILLEUR2D</text><text x="1053" y="912">::export_ivanim</text>
<rect x="1018" y="922" width="70" height="13"/><text x="1053" y="927.3">CAD4FE::MCBody::ExportBRep</text><text x="1053" y="932">_MCEdgeSense</text>
<rect x="1020" y="942" width="66" height="13"/><text x="1053" y="947.3">FCT_TAILLE_ARETE::FCT</text><text x="1053" y="952">_TAILLE_ARETE</text>
<rect x="1018" y="966" width="70" height="13"/><text x="1053" y="971.3">OT_GEOMETRIE::get_map</text><text x="1053" y="976">_mg_element_sous_jacent</text>
<rect x="1018" y="990" width="70" height="13"/><text x="1053" y="995.3">MG_BOUCLE::get_mg_cosarete</text><text x="1053" y="1000">_precedente</text>
<rect x="1021" y="1012" width="65" height="8"/><text x="1053.5" y="1017.5">MG_UTILS::GetFEVCount</text>
<rect x="1018" y="1030" width="70" height="13"/><text x="1053" y="1035.3">VCT_COMPARAISON::identifie</text><text x="1053" y="1040">_topologie_sous_jacente</text>
<rect x="1020" y="1053" width="66" height="13"/><text x="1053" y="1058.3">OCC_FONCTION_V2017</text><text x="1053" y="1063">::identifier_TopoDS_Edge</text>
<rect x="1018" y="1074" width="70" height="13"/><text x="1053" y="1079.3">MG_MAILLAGE_OUTILS</text><text x="1053" y="1084">::IdentifyEdge1</text>
<rect x="1018" y="1096" width="70" height="13"/><text x="1053" y="1101.3">MG_MAILLAGE_OUTILS</text><text x="1053" y="1106">::IdentifyEdge2</text>
<rect x="1018" y="1118" width="70" height="13"/><text x="1053" y="1123.3">MG_MAILLAGE_OUTILS</text><text x="1053" y="1128">::IdentifyEdge3</text>
<rect x="1018" y="1140" width="70" height="13"/><text x="1053" y="1145.3">MG_MAILLAGE_OUTILS</text><text x="1053" y="1150">::IdentifyEdge4</text>
<rect x="1021" y="1160" width="65" height="13"/><text x="1053.5" y="1165.3">CAD4FE::MCBody::InitHyper</text><text x="1053.5" y="1170">Graphs</text>
<rect x="1020" y="1185" width="66" height="13"/><text x="1053" y="1190.3">CAD4FE::MAILLEUR2D</text><text x="1053" y="1195">::initialise_front</text>
<rect x="1025" y="1207" width="55" height="13"/><text x="1052.5" y="1212.3">MAILLEUR2D::verifie</text><text x="1052.5" y="1217">_coin_sommet</text>
<rect x="1025" y="1229" width="55" height="13"/><text x="1052.5" y="1234.3">MAILLEUR2D::initialise</text><text x="1052.5" y="1239">_front</text>
<rect x="1018" y="1251" width="70" height="13"/><text x="1053" y="1256.3">CAD4FE::FaceBoundaryPoint</text><text x="1053" y="1261">::Initialize</text>
<rect x="1027" y="1273" width="53" height="13"/><text x="1053.5" y="1278.3">CAD4FE::PolyCurve::</text><text x="1053.5" y="1283">InsertCurve</text>
<rect x="1018" y="1295" width="70" height="13"/><text x="1053" y="1300.3">CAD4FE::GeometricTools</text><text x="1053" y="1305">::IsInteriorDir</text>
<rect x="1027" y="1316" width="53" height="8"/><text x="1053.5" y="1321.5">MAILLEUR1D::maille</text>
<rect x="1022" y="1334" width="64" height="13"/><text x="1054" y="1339.3">MAILLEUR_PARTICULE</text><text x="1054" y="1344">_FINE::maille_sphere</text>
<rect x="1022" y="1357" width="64" height="13"/><text x="1054" y="1362.3">MAILLEUR_PARTICULE</text><text x="1054" y="1367">_FINE::maille_cylindre</text>
<rect x="1018" y="1380" width="70" height="19"/><text x="1053" y="1385.5">CAD4FE::GeometricTools</text><text x="1053" y="1390.1">::MG_ARETE_Contains_MG</text><text x="1053" y="1394.7">_SOMMET</text>
<rect x="1018" y="1407" width="70" height="13"/><text x="1053" y="1412.3">REC_ARETE_ELLIPTIQUE</text><text x="1053" y="1417">::Reconstruire</text>
<rect x="1018" y="1429" width="70" height="13"/><text x="1053" y="1434.3">REC_ARETE_LINEAIRE</text><text x="1053" y="1439">::Reconstruire</text>
<rect x="1018" y="1451" width="72" height="8"/><text x="1054" y="1456.5">REC_ARETE_SPLINE::Reconstruire</text>
<rect x="1018" y="1469" width="70" height="13"/><text x="1053" y="1474.3">REC_ARETE_CIRCULAIRE</text><text x="1053" y="1479">::Reconstruire</text>
<rect x="1018" y="1503" width="70" height="13"/><text x="1053" y="1508.3">CAD4FE::Intersection</text><text x="1053" y="1513">_Plane_MG_ARETE::Refine</text>
<rect x="1018" y="1528" width="70" height="13"/><text x="1053" y="1533.3">MG_GEOMETRIE::supprimer</text><text x="1053" y="1538">_mg_arete</text>
<rect x="1018" y="1550" width="70" height="13"/><text x="1053" y="1555.3">MG_GEOMETRIE::supprimer</text><text x="1053" y="1560">_tout_mg_arete</text>

<rect x="1106" y="903.5" width="64" height="8.5" style="fill:#bfbfbf"/><text x="1138" y="909.3">MG_ARETE::get_cosommet1</text>
</svg>
</body></html>
